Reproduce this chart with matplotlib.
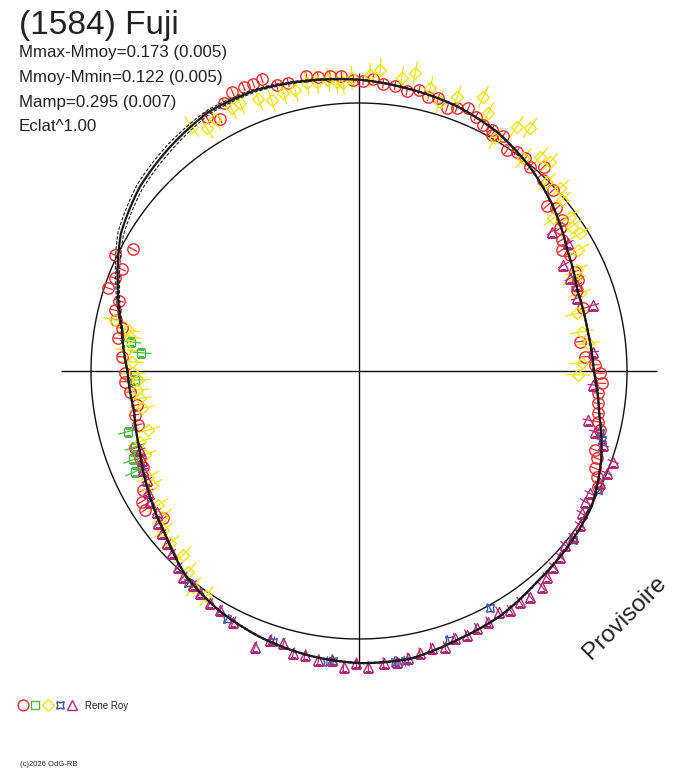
import numpy as np
import matplotlib
matplotlib.use("Agg")
import matplotlib.pyplot as plt
from matplotlib.lines import Line2D

plt.rcParams['font.family'] = ['Liberation Sans', 'DejaVu Sans']

# ---------------- data ----------------
title = "(1584) Fuji"
info_lines = ["Mmax-Mmoy=0.173 (0.005)", "Mmoy-Mmin=0.122 (0.005)",
              "Mamp=0.295 (0.007)", "Eclat^1.00"]
observer = "Rene Roy"
copyright_txt = "(c)2026 OdG-RB"
status_txt = "Provisoire"

# fitted lightcurve (phase in degrees, relative flux radius)
curve_phase = list(range(0, 360, 10))
curve_r = [0.876, 0.866, 0.868, 0.898, 0.948, 0.993, 1.030, 1.054, 1.069, 1.087,
           1.100, 1.116, 1.118, 1.094, 1.068, 1.026, 0.958, 0.898, 0.864, 0.852,
           0.870, 0.906, 0.945, 1.002, 1.036, 1.060, 1.078, 1.090, 1.091, 1.068,
           1.055, 1.030, 1.018, 1.004, 0.962, 0.910]
# alternative fits (outer / inner)
curve_r_outer = [0.878, 0.868, 0.870, 0.900, 0.950, 0.995, 1.032, 1.056, 1.071, 1.089,
                 1.103, 1.121, 1.126, 1.106, 1.081, 1.038, 0.966, 0.902, 0.866, 0.854,
                 0.872, 0.908, 0.947, 1.004, 1.038, 1.062, 1.080, 1.092, 1.093, 1.070,
                 1.057, 1.032, 1.020, 1.006, 0.964, 0.912]
curve_r_inner = [0.874, 0.864, 0.866, 0.896, 0.946, 0.991, 1.028, 1.052, 1.067, 1.085,
                 1.097, 1.111, 1.110, 1.082, 1.056, 1.015, 0.951, 0.895, 0.862, 0.850,
                 0.868, 0.904, 0.943, 1.000, 1.034, 1.058, 1.076, 1.088, 1.089, 1.066,
                 1.053, 1.028, 1.016, 1.002, 0.960, 0.908]

# session 1 (red circles)
s1_phase = [121.0, 118.9, 116.7, 114.4, 112.1, 110.2, 108.4, 106.1, 103.8, 100.1,
            97.9, 95.6, 93.4, 91.1, 89.2, 87.2, 85.2, 82.8, 80.3, 77.9,
            75.8, 73.8, 71.5, 69.6, 67.4, 65.3, 63.2, 61.2, 60.6, 58.5,
            56.2, 54.3, 52.0, 50.1, 47.9, 46.0, 43.0, 41.3, 39.5, 36.7,
            35.4, 32.9, 30.8, 28.8, 24.7, 22.5, 20.4, 15.6, 7.6, 3.6,
            1.5, -0.5, -2.9, -5.3, -7.7, -10.0, -12.0, -13.8, -18.5, -20.2,
            -22.4, -24.0, -25.8, 151.7, 154.6, 156.8, 159.2, 161.7, 163.7, 166.0,
            168.1, 169.8, 172.3, 176.6, 180.6, 182.6, 185.2, 188.7, 191.1, 193.7,
            199.0, 201.7, 203.9, 208.9, 211.0, 213.0, 217.0]
s1_r = [1.104, 1.073, 1.121, 1.143, 1.145, 1.141, 1.148, 1.110, 1.108, 1.118,
        1.109, 1.106, 1.103, 1.086, 1.083, 1.091, 1.075, 1.073, 1.060, 1.072,
        1.056, 1.060, 1.034, 1.046, 1.062, 1.045, 1.028, 1.027, 1.010, 1.030,
        0.992, 1.008, 1.007, 0.994, 1.027, 0.990, 0.991, 0.933, 0.955, 0.943,
        0.920, 0.900, 0.881, 0.898, 0.887, 0.886, 0.867, 0.869, 0.832, 0.845,
        0.881, 0.899, 0.907, 0.897, 0.901, 0.907, 0.913, 0.926, 0.929, 0.945,
        0.953, 0.971, 0.992, 0.957, 1.008, 0.963, 0.974, 0.985, 0.932, 0.938,
        0.926, 0.900, 0.906, 0.887, 0.873, 0.874, 0.858, 0.839, 0.852, 0.848,
        0.884, 0.880, 0.881, 0.919, 0.946, 0.952, 0.914]

# session 2 (green squares)
s2_phase = [172.7, 175.2, 182.3, 194.7, 198.7, 201.4, 204.2]
s2_r = [0.859, 0.817, 0.836, 0.890, 0.882, 0.904, 0.916]

# session 3 (yellow diamonds)
s3_phase = [124.4, 122.1, 119.8, 115.9, 114.0, 110.3, 107.9, 105.2, 102.8, 100.3,
            98.3, 96.0, 94.4, 93.1, 91.4, 87.9, 86.0, 81.7, 79.3, 75.9,
            73.3, 70.3, 65.6, 63.4, 59.7, 57.2, 54.9, 52.3, 49.8, 47.6,
            45.2, 42.3, 40.2, 38.2, 36.2, 34.2, 31.9, 28.9, 24.9, 22.8,
            19.4, 14.8, 10.0, 6.9, 2.0, -1.0, 168.2, 169.9, 171.5, 174.8,
            177.7, 180.6, 182.3, 184.9, 187.1, 189.7, 195.6, 197.9, 201.4, 206.6,
            208.8, 213.7, 216.4, 219.1, 222.4, 226.3, 229.6, 232.5, 235.9]
s3_r = [1.105, 1.069, 1.082, 1.089, 1.093, 1.081, 1.062, 1.076, 1.075, 1.091,
        1.091, 1.092, 1.083, 1.077, 1.093, 1.105, 1.126, 1.104, 1.130, 1.088,
        1.049, 1.087, 1.124, 1.076, 1.006, 1.085, 1.110, 1.003, 1.047, 1.057,
        0.995, 1.013, 0.990, 0.922, 0.975, 0.959, 0.972, 0.935, 0.896, 0.875,
        0.874, 0.840, 0.844, 0.862, 0.831, 0.818, 0.930, 0.874, 0.864, 0.870,
        0.849, 0.842, 0.824, 0.832, 0.823, 0.823, 0.816, 0.859, 0.858, 0.880,
        0.883, 0.900, 0.915, 0.941, 0.954, 0.949, 0.983, 1.015, 1.016]

# session 4 (blue stars)
s4_phase = [-14.5, -15.9, -26.4, -38.3, -61.1, -71.6, -82.9, -81.0, -96.3, -95.1,
            -107.6, -118.1, -128.8]
s4_r = [0.929, 0.941, 0.997, 1.018, 1.011, 1.058, 1.093, 1.096, 1.091, 1.087,
        1.060, 1.047, 1.017]

# session 5 (purple triangles)
s5_phase = [35.9, 31.4, 27.4, 23.7, 21.6, 18.5, 15.7, 4.7, -3.4, -12.1,
            -14.4, -16.9, -19.6, -22.4, -25.0, -27.9, -30.0, -32.6, -34.9, -37.7,
            -40.2, -42.7, -45.2, -47.6, -49.7, -52.8, -55.1, -57.7, -59.9, -62.7,
            -65.4, -67.8, -70.2, -72.7, -75.3, -77.8, -80.3, -82.6, -85.2, -88.2,
            -90.5, -93.0, -95.4, -98.0, -100.8, -103.1, -105.5, -108.3, -110.7, -116.6,
            -120.2, -122.7, -125.6, -127.8, -130.5, -132.7, -135.8, -138.1, -140.6, -142.8,
            -145.2, -148.0, -150.2, -152.8, -155.3, -157.7, -160.2]
s5_r = [0.887, 0.915, 0.859, 0.860, 0.873, 0.856, 0.908, 0.877, 0.876, 0.875,
        0.909, 0.953, 1.007, 1.000, 0.992, 0.975, 0.974, 0.986, 1.005, 1.011,
        1.006, 1.021, 1.029, 1.039, 1.055, 1.057, 1.050, 1.055, 1.038, 1.053,
        1.056, 1.064, 1.060, 1.078, 1.070, 1.078, 1.088, 1.094, 1.094, 1.104,
        1.091, 1.105, 1.083, 1.089, 1.079, 1.081, 1.055, 1.057, 1.100, 1.046,
        1.032, 1.030, 1.020, 1.010, 1.009, 0.994, 0.975, 0.963, 0.953, 0.940,
        0.919, 0.920, 0.906, 0.890, 0.886, 0.876, 0.869]

series = [
    dict(phase=s1_phase, r=s1_r, color='#ee2a2e', marker='o', ms=8.2, err=0.017),
    dict(phase=s2_phase, r=s2_r, color='#4cb848', marker='s', ms=6.0, err=0.040),
    dict(phase=s3_phase, r=s3_r, color='#f5e400', marker='D', ms=6.2, err=0.045),
    dict(phase=s4_phase, r=s4_r, color='#3b58a8', marker=(4, 1, 45), ms=8.0, err=0.020),
    dict(phase=s5_phase, r=s5_r, color='#b0287a', marker='^', ms=7.5, err=0.022),
]

# ---------------- figure ----------------
W, H = 688, 768
fig = plt.figure(figsize=(W / 100, H / 100), dpi=100)
fig.patch.set_facecolor('white')

cx, cy, R = 359, 371, 268          # pixel centre / unit radius
RMAX = 1.2
half = RMAX * R
ax = fig.add_axes([(cx - half) / W, (H - cy - half) / H, 2 * half / W, 2 * half / H],
                  projection='polar')
ax.set_ylim(0, RMAX)
ax.grid(False)
ax.set_xticks([])
ax.set_yticks([])
ax.spines['polar'].set_visible(False)
ax.patch.set_visible(False)

# reference unit circle and cross
tt = np.linspace(0, 2 * np.pi, 721)
ax.plot(tt, np.ones_like(tt), color='#111111', lw=1.0, zorder=1)
ax.vlines(np.deg2rad([0, 90, 180, 270]), 0, 1.112, color='#111111', lw=1.0, zorder=1)

# observations with radial error bars
for s in series:
    th = np.deg2rad(s['phase'])
    r = np.asarray(s['r'])
    ax.vlines(th, r - s['err'], r + s['err'], color=s['color'], lw=0.9, zorder=3)
    ax.plot(th, r, linestyle='none', marker=s['marker'], ms=s['ms'],
            mfc='none', mec=s['color'], mew=1.0, zorder=4)

# fitted curves (segments drawn linearly in polar coordinates by the polar transform)
cth = np.deg2rad(curve_phase + [360])
curve_lines = []
curve_lines += ax.plot(cth, curve_r + curve_r[:1], color='#1a1a1a', lw=1.6, zorder=6)
curve_lines += ax.plot(cth, curve_r_outer + curve_r_outer[:1], color='#1a1a1a', lw=0.8,
                       ls=(0, (3, 1.5)), zorder=6)
curve_lines += ax.plot(cth, curve_r_inner + curve_r_inner[:1], color='#1a1a1a', lw=0.8,
                       ls=(0, (3, 1.5)), zorder=6)
for ln in curve_lines:
    ln.get_path()._interpolation_steps = 20

# ---------------- texts ----------------
def fx(px):
    return px / W

def fy(py):
    return 1 - py / H

fig.text(fx(19), fy(34), title, fontsize=24, color='#222222', va='baseline', ha='left')
for line, base in zip(info_lines, [57.5, 82, 106.5, 131]):
    fig.text(fx(19), fy(base), line, fontsize=12.2, color='#222222',
             va='baseline', ha='left')

fig.text(fx(625), fy(618), status_txt, fontsize=17.5, color='#222222', rotation=45,
         ha='center', va='center', rotation_mode='anchor')

# legend row
leg_x = [22.5, 35, 47.5, 60, 72]
for s, lx in zip(series, leg_x):
    fig.add_artist(Line2D([fx(lx)], [fy(705)], transform=fig.transFigure,
                          linestyle='none', marker=s['marker'],
                          ms=s['ms'] * 0.95, mfc='none', mec=s['color'], mew=1.0))
fig.text(fx(85), fy(709), observer, fontsize=7, color='#222222', va='baseline',
         ha='left')
fig.text(fx(20), fy(766), copyright_txt, fontsize=5.5, color='#222222',
         va='baseline', ha='left')

fig.savefig('out.png', dpi=100, facecolor='white')
